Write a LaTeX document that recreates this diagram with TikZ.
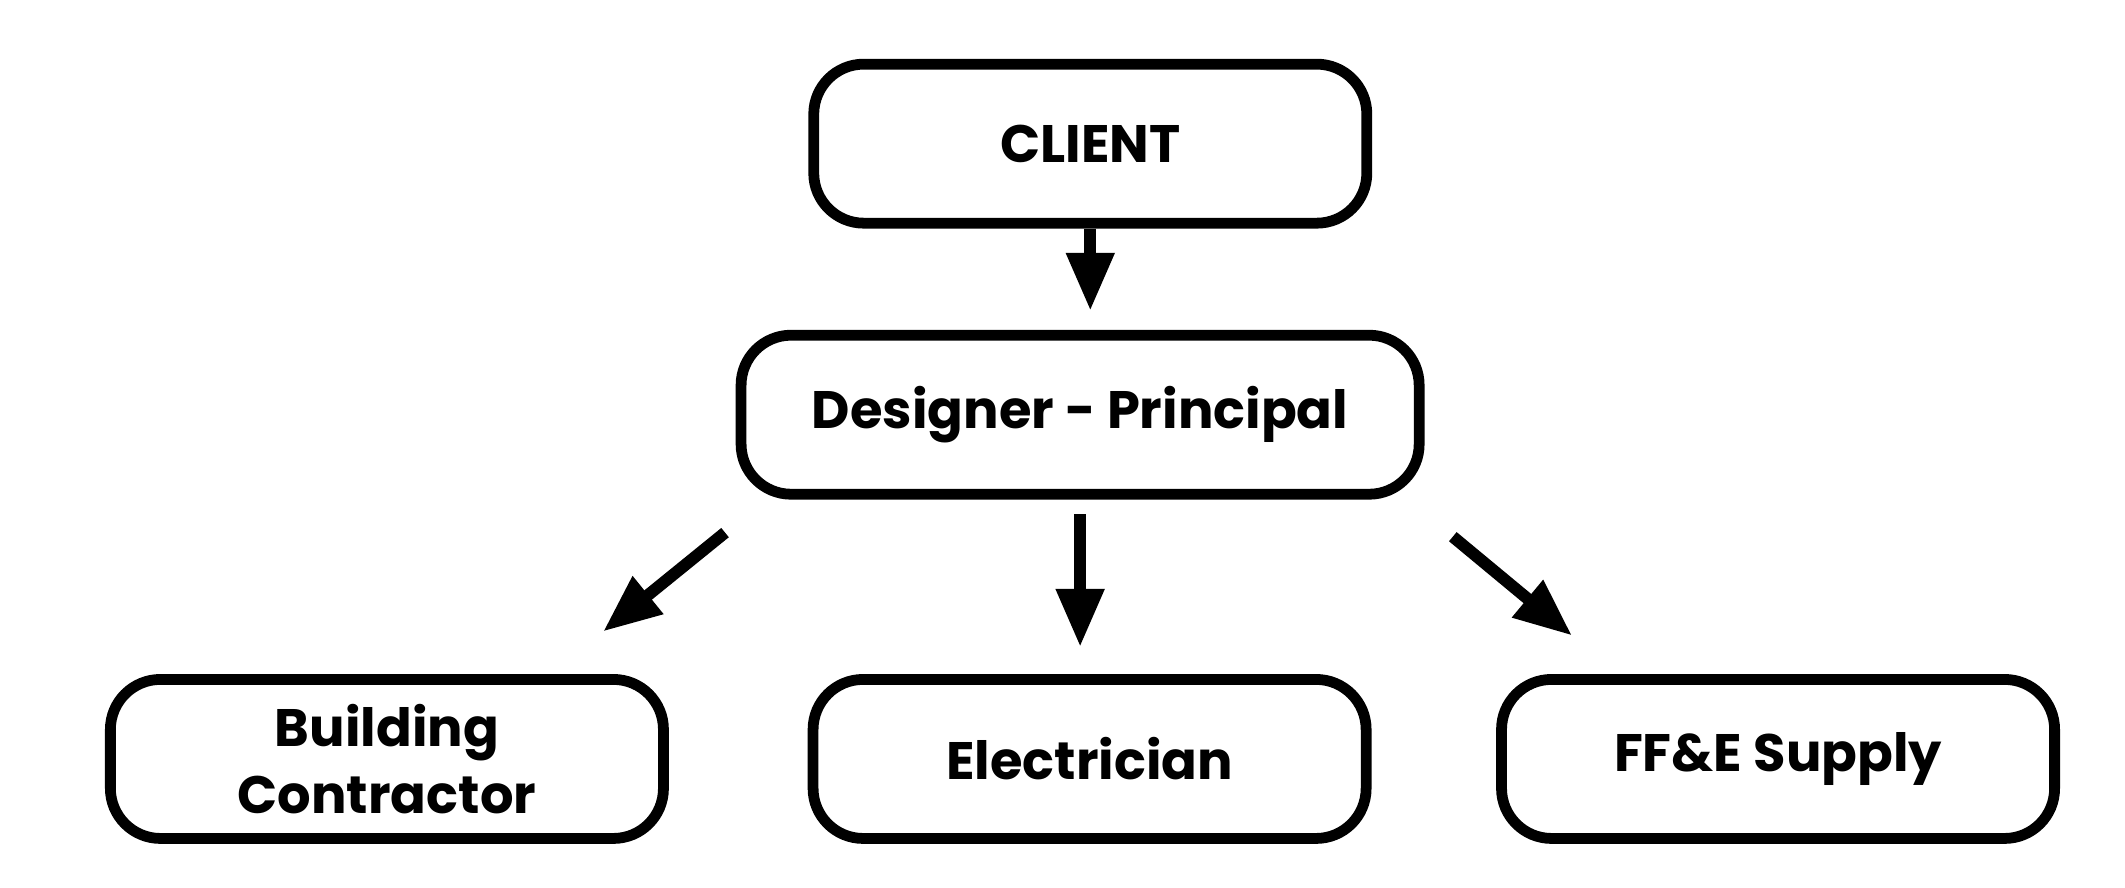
\documentclass[tikz,border=0pt]{standalone}
\usepackage{fontspec}
\setmainfont{Poppins}[BoldFont={* Bold}]
\usetikzlibrary{arrows.meta}

\tikzset{
  role/.style={draw, line width=3.07pt, rounded corners=5mm, minimum width=55.3mm,
    minimum height=15.9mm, align=center, font=\fontsize{15}{19}\selectfont\bfseries},
  link/.style={line width=3.4pt, -{Triangle[width=13pt,length=16.5pt]}}
}

\begin{document}
\begin{tikzpicture}[x=0.13552mm, y=-0.13552mm]
        \useasboundingbox (0,0) rectangle (1568,655);

        % Top of the hierarchy
        \node[role] (client) at (804.5,106) {CLIENT};
        \node[role, minimum width=67.8mm] (designer) at (797,306) {Designer - Principal};

        % Trades and suppliers
        \node[role] (builder) at (285.5,560) {Building\\Contractor};
        \node[role] (electric) at (804,560) {Electrician};
        \node[role] (supply) at (1312,560) {FF\&E Supply};

        % Free ends of the slanted links
        \coordinate (bstart) at (535,393);
        \coordinate (bend) at (445,466);
        \coordinate (sstart) at (1072,396);
        \coordinate (send) at (1160,469);

        \draw[link, shorten >=5.4pt] (client.south) -- (client.south |- designer.north);
        \draw[link, shorten <=4.2pt, shorten >=7.7pt] (designer.south) -- (designer.south |- electric.north);
        \draw[link] (bstart) -- (bend);
        \draw[link] (sstart) -- (send);
    \end{tikzpicture}
\end{document}
